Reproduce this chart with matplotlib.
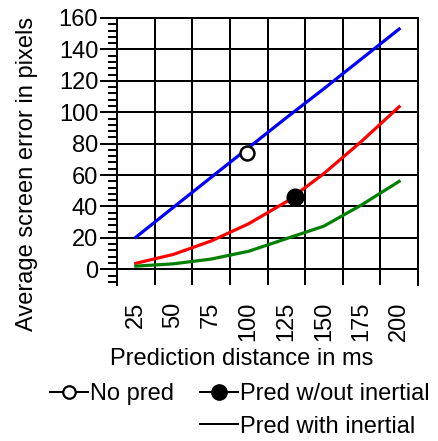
import matplotlib; matplotlib.use("Agg")
import matplotlib.pyplot as plt
from matplotlib.lines import Line2D
from matplotlib.ticker import MultipleLocator, FixedLocator

plt.rcParams.update({"font.family":["Liberation Sans","DejaVu Sans"],"font.size":17})

# ---- data ----
x_ms      = [25, 50, 75, 100, 125, 150, 175, 200]
no_pred   = [20.4, 39.5, 58.5, 77.5, 96.5, 115, 134, 153]
pred_wo   = [3.8, 9.5, 18, 29, 43, 61, 81.5, 103.5]
pred_with = [2, 3.5, 6.5, 11.5, 19.5, 27.5, 41, 56]
open_pt   = (98.7, 74)      # single "No pred" marker
fill_pt   = (130.6, 46)     # single "Pred w/out inertial" marker
cell_edges = [12.5 + 25*k for k in range(9)]
labels = ["No pred", "Pred w/out inertial", "Pred with inertial"]

K = "#000000"; LW = 1.45
fig = plt.figure(figsize=(4.38, 4.41), dpi=100)
ax = fig.add_axes([117/438, 1-285/441, 301/438, 267/441])

ax.plot(x_ms, no_pred, color="#0000ff", lw=2.3, zorder=3)
ax.plot(x_ms, pred_wo, color="#ff0000", lw=2.3, zorder=3)
ax.plot(x_ms, pred_with, color="#008000", lw=2.3, zorder=3)
ax.plot(*open_pt, "o", ms=10, mfc="white", mec=K, mew=1.8, zorder=4)
ax.plot(*fill_pt, "o", ms=12, mfc=K, mec=K, zorder=4)

ax.set_xlim(cell_edges[0], cell_edges[-1]); ax.set_ylim(-10, 160)
ax.set_xticks(x_ms); ax.set_xticklabels([str(v) for v in x_ms], rotation=90)
ax.xaxis.set_minor_locator(FixedLocator(cell_edges[1:-1]))
ax.set_yticks(range(0, 161, 20)); ax.yaxis.set_minor_locator(MultipleLocator(4))
ax.tick_params(axis="x", which="both", length=0, pad=12)
ax.tick_params(axis="y", which="major", length=12.5, width=LW, pad=1, color=K)
ax.tick_params(axis="y", which="minor", length=6.5, width=LW, color=K)
ax.grid(True, axis="y", which="major", color=K, lw=LW)
ax.grid(True, axis="x", which="minor", color=K, lw=LW)
ax.set_axisbelow(True)
ax.spines["bottom"].set_visible(False)
for s in ("top", "left", "right"): ax.spines[s].set_linewidth(LW); ax.spines[s].set_color(K)

ax.set_ylabel("Average screen error in pixels", va="center"); ax.yaxis.set_label_coords(-0.299, 0.416)
ax.set_xlabel("Prediction distance in ms", va="center"); ax.xaxis.set_label_coords(0.414, -0.277)

h = [Line2D([], [], color=K, lw=LW, marker="o", ms=9, mfc="white", mec=K, mew=1.6, label=labels[0]),
     Line2D([], [], ls="none", label=" "),
     Line2D([], [], color=K, lw=LW, marker="o", ms=11, mfc=K, mec=K, label=labels[1]),
     Line2D([], [], color=K, lw=LW, label=labels[2])]
fig.legend(handles=h, ncol=2, loc="upper left", bbox_to_anchor=(50/438, 1-383/441), frameon=False,
           borderpad=0, borderaxespad=0, handlelength=1.6, handletextpad=0.1, columnspacing=1.1,
           labelspacing=0.45)

fig.savefig("out.png", dpi=100, facecolor="white")
